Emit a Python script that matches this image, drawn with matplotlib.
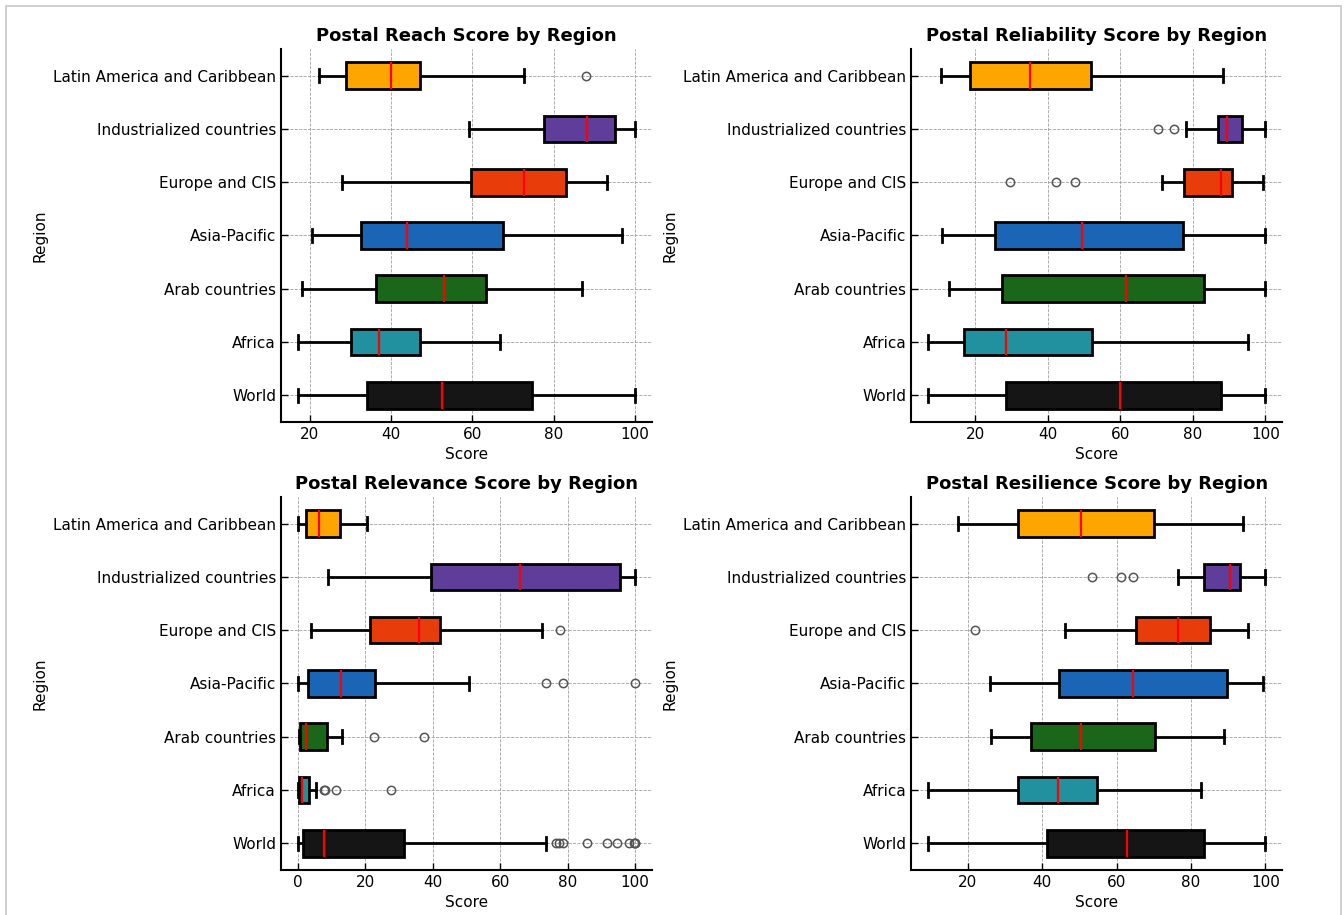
import matplotlib
matplotlib.use("Agg")
import matplotlib.pyplot as plt
from matplotlib.patches import Rectangle

# regions listed bottom -> top as they appear on the y axis
regions = ["World", "Africa", "Arab countries", "Asia-Pacific",
           "Europe and CIS", "Industrialized countries", "Latin America and Caribbean"]
colors = ["#151515", "#22919F", "#1B6719", "#1A65B5", "#E83C0B", "#5E3E9A", "#FFA500"]

# box stats: (whislo, q1, med, q3, whishi)
reach_stats = [(17.1, 34.0, 52.5, 74.6, 100.0), (17.1, 30.1, 37.1, 47.2, 66.9),
               (18.2, 36.4, 53.0, 63.3, 86.9), (20.5, 32.7, 44.0, 67.6, 96.7),
               (28.0, 59.6, 72.8, 83.0, 93.1), (59.3, 77.7, 88.1, 95.0, 100.0),
               (22.3, 29.0, 40.1, 47.2, 72.8)]
reach_fliers = [[], [], [], [], [], [], [87.9]]

reliab_stats = [(7.0, 28.4, 59.9, 87.9, 100.0), (7.0, 16.8, 28.4, 52.1, 95.2),
                (12.8, 27.5, 61.7, 83.2, 100.0), (10.8, 25.5, 49.5, 77.2, 100.0),
                (71.5, 77.7, 87.9, 90.9, 99.4), (78.0, 86.9, 89.5, 93.5, 100.0),
                (10.5, 18.5, 35.2, 51.9, 88.3)]
reliab_fliers = [[], [], [], [], [29.6, 42.3, 47.5], [70.3, 74.8], []]

relev_stats = [(0.0, 1.5, 7.9, 31.6, 73.6), (0.0, 0.3, 1.3, 3.2, 5.5),
               (0.3, 0.7, 2.3, 8.8, 13.2), (0.0, 3.0, 12.9, 22.8, 50.7),
               (3.8, 21.5, 36.0, 42.1, 72.4), (9.1, 39.6, 65.9, 95.7, 100.0),
               (0.0, 2.4, 6.2, 12.4, 20.6)]
relev_fliers = [[76.7, 77.6, 78.6, 85.7, 91.8, 94.8, 98.3, 99.7, 100.0, 100.0],
                [7.7, 8.0, 11.2, 27.7], [22.5, 37.4], [73.6, 78.6, 100.0],
                [77.7], [], []]

resil_stats = [(9.3, 41.3, 62.9, 83.4, 100.0), (9.3, 33.5, 44.2, 54.6, 82.8),
               (26.1, 37.0, 50.4, 70.2, 88.9), (25.9, 44.6, 64.4, 89.7, 99.3),
               (46.1, 65.2, 76.4, 85.2, 95.4), (76.5, 83.4, 90.6, 93.2, 100.0),
               (17.4, 33.5, 50.3, 70.1, 93.9)]
resil_fliers = [[], [], [], [], [21.9], [53.4, 61.3, 64.5], []]

titles = ["Postal Reach Score by Region", "Postal Reliability Score by Region",
          "Postal Relevance Score by Region", "Postal Resilience Score by Region"]


def make_stats(stats, fliers):
    out = []
    for (lo, q1, med, q3, hi), fl in zip(stats, fliers):
        out.append(dict(whislo=lo, q1=q1, med=med, q3=q3, whishi=hi, fliers=fl))
    return out


plt.rcParams['font.family'] = ['DejaVu Sans']
plt.rcParams['font.size'] = 11

fig = plt.figure(figsize=(13.44, 9.15), dpi=100)
fig.patches.append(Rectangle((0.0045, -0.01), 0.9935, 1.003, transform=fig.transFigure,
                             fill=False, edgecolor='#c8c8c8', linewidth=1.2))

positions = [(0.209, 0.5388), (0.678, 0.5388), (0.209, 0.0492), (0.678, 0.0492)]
datasets = [(reach_stats, reach_fliers), (reliab_stats, reliab_fliers),
            (relev_stats, relev_fliers), (resil_stats, resil_fliers)]

for (left, bottom), (st, fl), title in zip(positions, datasets, titles):
    ax = fig.add_axes([left, bottom, 0.276, 0.4077])
    bp = ax.bxp(make_stats(st, fl), vert=False, widths=0.5, patch_artist=True,
                boxprops=dict(edgecolor='black', linewidth=2),
                whiskerprops=dict(color='black', linewidth=2),
                capprops=dict(color='black', linewidth=2),
                medianprops=dict(color='red', linewidth=1.6),
                flierprops=dict(marker='o', markerfacecolor='none',
                                markeredgecolor='#555555', markersize=6,
                                markeredgewidth=1.1))
    for box, c in zip(bp['boxes'], colors):
        box.set_facecolor(c)
    ax.set_yticks(range(1, len(regions) + 1))
    ax.set_yticklabels(regions, fontsize=11)
    ax.tick_params(axis='x', labelsize=11)
    ax.tick_params(direction='in', length=5, width=1)
    ax.set_title(title, fontsize=13, fontweight='bold')
    ax.set_xlabel('Score', fontsize=11)
    ax.set_ylabel('Region', fontsize=11)
    ax.grid(True, linestyle='--', color='#a0a0a0', linewidth=0.6)
    ax.set_axisbelow(True)
    for s in ['top', 'right']:
        ax.spines[s].set_visible(False)
    for s in ['left', 'bottom']:
        ax.spines[s].set_linewidth(1.5)

fig.savefig('out.png', dpi=100)
